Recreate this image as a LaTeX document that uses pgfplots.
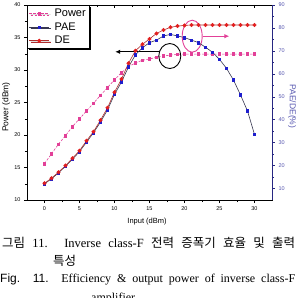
\documentclass[border=0pt]{standalone}
\usepackage{fontspec}
\setmainfont{Liberation Serif}
\setsansfont{Liberation Sans}
\newfontfamily\kr{Noto Sans CJK KR}
\usepackage{pgfplots}
\usepackage{pgfplotstable}
\pgfplotsset{compat=1.18}
\usetikzlibrary{arrows.meta,shadows}

\definecolor{pwr}{RGB}{226,64,152}
\definecolor{dered}{RGB}{226,30,30}
\definecolor{deline}{RGB}{175,45,45}
\definecolor{paeblue}{RGB}{30,30,205}
\definecolor{paeline}{RGB}{55,55,80}
\definecolor{rax}{RGB}{40,40,130}
\definecolor{rlab}{RGB}{85,85,175}

\pgfplotstableread{
x y
0 15.6
1 17.1
2 18.6
3 19.9
4 21.3
5 22.5
6 23.7
7 24.9
8 26.1
9 27.3
10 28.5
11 29.6
12 30.5
13 31.1
14 31.5
15 31.7
16 31.95
17 32.15
18 32.3
19 32.4
20 32.45
21 32.45
22 32.45
23 32.45
24 32.45
25 32.45
26 32.45
27 32.45
28 32.45
29 32.45
30 32.45
}\powertab

\pgfplotstableread{
x y
0 12.1
1 14.2
2 16.9
3 19.7
4 22.8
5 26.1
6 30.2
7 34.3
8 39.0
9 44.3
10 51.0
11 56.5
12 63.0
13 68.3
14 71.4
15 73.6
16 74.7
17 76.5
18 77.2
19 76.5
20 75.8
21 74.7
22 73.6
23 71.6
24 69.4
25 66.3
26 62.4
27 57.3
28 50.8
29 43.8
30 33.6
}\paetab

\pgfplotstableread{
x y
0 12.3
1 14.5
2 17.1
3 20.0
4 23.2
5 26.5
6 30.8
7 34.8
8 39.8
9 45.2
10 52.0
11 57.7
12 64.6
13 70.1
14 72.9
15 75.2
16 77.6
17 79.1
18 80.3
19 80.8
20 81.1
21 81.3
22 81.3
23 81.3
24 81.3
25 81.3
26 81.3
27 81.3
28 81.3
29 81.3
30 81.3
}\detab

\begin{document}
\begin{tikzpicture}[x=1pt,y=1pt]
% left axis: Power
\begin{axis}[
  at={(0,0)}, anchor=south west, scale only axis,
  width=245pt, height=195pt,
  xmin=-2.5, xmax=32.5, ymin=10, ymax=40,
  xtick={0,5,...,30}, ytick={10,15,...,40},
  minor x tick num=1, minor y tick num=1,
  xtick pos=left, ytick pos=left, tick align=outside,
  major tick length=3pt, minor tick length=2pt,
  tick style={black, line width=0.5pt},
  axis line style={line width=0.8pt},
  ticklabel style={font=\fontsize{5.5}{6}\selectfont\sffamily},
  /pgf/number format/assume math mode=true,
  xlabel={Input (dBm)},
  xlabel style={at={(axis description cs:0.49,-0.113)}, anchor=center, font=\fontsize{7.5}{9}\selectfont\sffamily},
  ylabel={Power (dBm)},
  ylabel style={at={(axis description cs:-0.085,0.477)}, anchor=center, font=\fontsize{8.5}{10}\selectfont\sffamily},
  clip=false,
]
\addplot[pwr, line width=0.6pt, dash pattern=on 2.5pt off 1.5pt, mark=square*, mark size=1.3pt, mark options={solid}] table[x=x,y=y] {\powertab};
\draw[black, line width=0.9pt] (axis cs:17.9,32.15) ellipse [x radius=11pt, y radius=12.5pt];
\draw[black, line width=1.1pt, -{Latex[length=5pt,width=4.5pt]}] (axis cs:16.4,32.8) -- (axis cs:10.1,32.8);
\draw[pwr, line width=0.9pt] (axis cs:21.1,35.2) ellipse [x radius=10pt, y radius=16pt];
\draw[pwr, line width=1.1pt, -{Latex[length=5pt,width=4.5pt]}] (axis cs:22.6,35.2) -- (axis cs:26.4,35.2);
\end{axis}
% top ticks
\begin{axis}[
  at={(0,0)}, anchor=south west, scale only axis,
  width=245pt, height=195pt,
  xmin=-2.5, xmax=32.5, ymin=10, ymax=40,
  hide y axis, axis x line*=top, tick align=inside,
  xtick={0,5,...,30}, minor x tick num=1, xticklabels={},
  major tick length=3pt, minor tick length=2pt,
  tick style={black, line width=0.5pt},
  axis line style={line width=0.8pt},
]
\end{axis}
% right axis: PAE / DE
\begin{axis}[
  at={(0,0)}, anchor=south west, scale only axis,
  width=245pt, height=195pt,
  xmin=-2.5, xmax=32.5, ymin=5, ymax=90,
  hide x axis, axis y line*=right,
  ytick={10,20,...,90}, minor y tick num=1, tick align=outside,
  major tick length=3pt, minor tick length=2pt,
  y axis line style={rax, line width=0.8pt},
  ytick style={rax, line width=0.5pt},
  yticklabel style={rlab, font=\fontsize{5.5}{6}\selectfont\sffamily},
  /pgf/number format/assume math mode=true,
  ylabel={PAE/DE(\%)},
  ylabel style={at={(axis description cs:1.082,0.48)}, anchor=center, rotate=180, rlab, font=\fontsize{8.5}{10}\selectfont\sffamily},
  legend image code/.code={\draw[mark repeat=2,mark phase=2,#1] plot coordinates {(0pt,0pt) (10pt,0pt) (20pt,0pt)};},
  legend style={at={(0,1)}, anchor=north west, draw=black, line width=1pt, fill=white,
    font=\fontsize{11}{12.5}\selectfont\sffamily, inner sep=1.5pt, row sep=0.5pt,
    /tikz/every odd column/.append style={column sep=3pt},
    drop shadow={shadow xshift=1.3pt, shadow yshift=-1.3pt, fill=black, opacity=1}},
  legend cell align=left,
  clip=false,
]
\addlegendimage{pwr, line width=0.6pt, dash pattern=on 2.5pt off 1.5pt, mark=square*, mark size=1.3pt, mark options={solid}}
\addlegendentry{Power}
\addplot[paeline, line width=0.6pt, mark=square*, mark size=1.3pt, mark options={paeblue}] table[x=x,y=y] {\paetab};
\addlegendentry{PAE}
\addplot[deline, line width=0.6pt, mark=*, mark size=1.7pt, mark options={dered}] table[x=x,y=y] {\detab};
\addlegendentry{DE}
\end{axis}
% caption
\node[anchor=west, inner sep=0] at (-25,-43) {\fontsize{12.5}{14}\selectfont\makebox[293pt][s]{{\kr 그림} 11. Inverse class-F {\kr 전력} {\kr 증폭기} {\kr 효율} {\kr 및} {\kr 출력}}};
\node[anchor=west, inner sep=0] at (26,-61) {\fontsize{12.5}{14}\selectfont\kr 특성};
\node[anchor=west, inner sep=0] at (-27,-79) {\fontsize{12}{14}\selectfont\makebox[295pt][s]{{\sffamily Fig.} {\sffamily 11.} Efficiency \& output power of inverse class-F}};
\node[anchor=base west, inner sep=0] at (64,-101.5) {\fontsize{12}{14}\selectfont amplifier};
\pgfresetboundingbox
\useasboundingbox (-27,-98) rectangle (271,200);
\end{tikzpicture}
\end{document}
